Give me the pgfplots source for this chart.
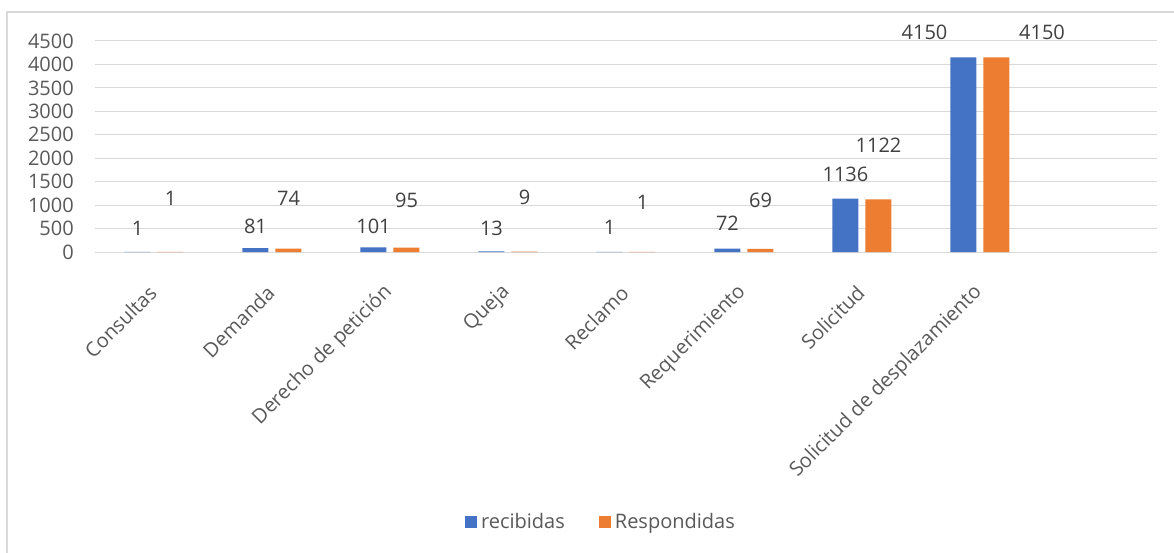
\documentclass[border=0pt]{standalone}
\usepackage{pgfplots}
\pgfplotsset{compat=1.18}
\usepackage{fontspec}
\setmainfont{Open Sans}
\definecolor{cblue}{HTML}{4472C4}
\definecolor{corange}{HTML}{ED7D31}
\definecolor{ctext}{HTML}{595959}
\definecolor{cgrid}{HTML}{D9D9D9}
\definecolor{clab}{HTML}{404040}
\newcommand{\fs}{\fontsize{20bp}{24bp}\selectfont}
\newcommand{\lab}[3]{\node[font=\fs, text=clab, inner sep=0pt] at (axis cs:#1,#2) {#3};}
\begin{document}
\begin{tikzpicture}
\useasboundingbox (0,0) rectangle (1174bp,553bp);
\draw[cgrid, line width=1.5bp] (7bp,-5bp) -- (7bp,541bp) -- (1180bp,541bp);
\begin{axis}[
  at={(95bp,301bp)}, anchor=south west,
  scale only axis, width=1062bp, height=211bp,
  ybar=7bp, bar width=26bp,
  xmin=-0.5, xmax=8.5, ymin=0, ymax=4500,
  ytick={0,500,...,4500},
  xtick={0,...,7},
  xticklabels={Consultas,Demanda,Derecho de petición,Queja,Reclamo,Requerimiento,Solicitud,Solicitud de desplazamiento},
  scaled y ticks=false,
  /pgf/number format/1000 sep={},
  /pgf/number format/assume math mode=true,
  ymajorgrids, grid style={cgrid, line width=1bp},
  axis line style={draw=none},
  major tick length=0pt,
  tick label style={font=\fs, text=ctext},
  yticklabel style={anchor=east, inner sep=0pt, xshift=-21bp},
  xticklabel style={rotate=45, anchor=east, inner sep=0pt, xshift=-27bp, yshift=-25.5bp},
  clip=false,
  legend columns=2,
  legend style={at={(0.4774,-1.2796)}, anchor=center, draw=none,
    font=\fs, text=ctext,
    nodes={inner sep=4bp},
    /tikz/every even column/.append style={column sep=30bp}},
  legend image code/.code={\fill[#1] (0bp,-6bp) rectangle (12bp,6bp);},
]
\addplot[fill=cblue, draw=none] coordinates {(0,1) (1,81) (2,101) (3,13) (4,1) (5,72) (6,1136) (7,4150)};
\addplot[fill=corange, draw=none] coordinates {(0,1) (1,74) (2,95) (3,9) (4,1) (5,69) (6,1122) (7,4150)};
\legend{recibidas,Respondidas}
\lab{-0.14}{512}{1}
\lab{0.86}{555}{81}
\lab{1.86}{555}{101}
\lab{2.86}{512}{13}
\lab{3.86}{533}{1}
\lab{4.86}{618}{72}
\lab{5.86}{1653}{1136}
\lab{6.53}{4682}{4150}
\lab{0.14}{1141}{1}
\lab{1.14}{1141}{74}
\lab{2.14}{1109}{95}
\lab{3.14}{1173}{9}
\lab{4.14}{1056}{1}
\lab{5.14}{1092}{69}
\lab{6.14}{2282}{1122}
\lab{7.526}{4682}{4150}
\end{axis}
\end{tikzpicture}
\end{document}
